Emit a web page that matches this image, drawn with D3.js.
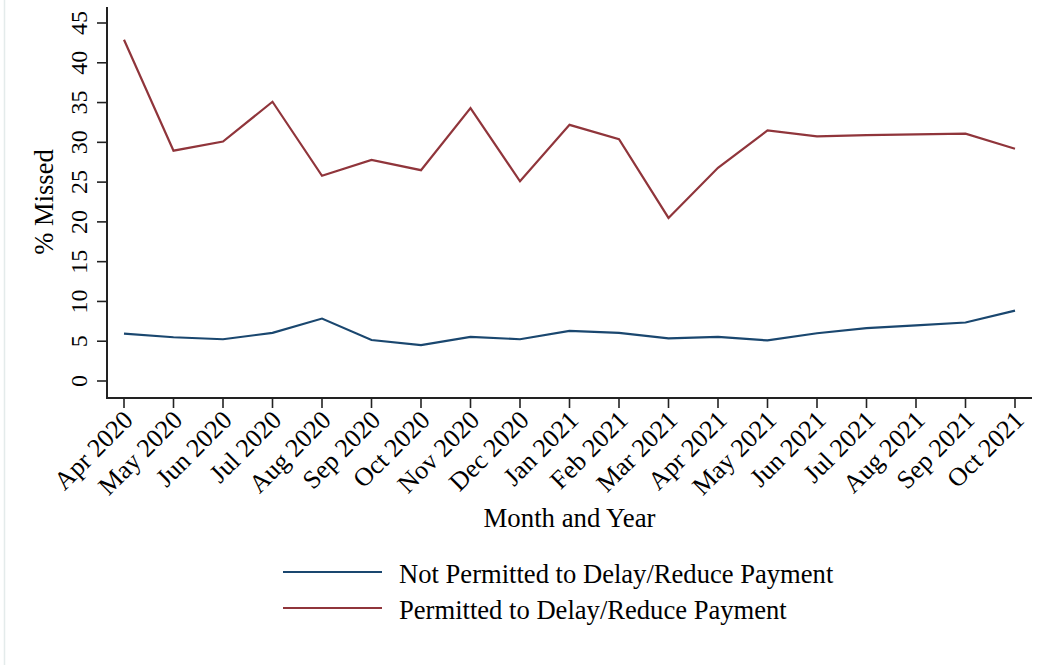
<!DOCTYPE html>
<html>
<head>
<meta charset="utf-8">
<script src="https://cdn.jsdelivr.net/npm/d3@7"></script>
<style>
  html, body { margin: 0; padding: 0; background: #ffffff; }
  svg { display: block; }
  text { font-family: "Liberation Serif", "Times New Roman", serif; fill: #000; }
</style>
</head>
<body>
<svg id="chart" width="1045" height="665"></svg>
<script>
// Monthly share of payments missed, by forbearance status
const months = ["Apr 2020", "May 2020", "Jun 2020", "Jul 2020", "Aug 2020", "Sep 2020",
  "Oct 2020", "Nov 2020", "Dec 2020", "Jan 2021", "Feb 2021", "Mar 2021", "Apr 2021",
  "May 2021", "Jun 2021", "Jul 2021", "Aug 2021", "Sep 2021", "Oct 2021"];

const notPermitted = [5.95, 5.5, 5.25, 6.05, 7.85, 5.15, 4.5, 5.55, 5.25, 6.3, 6.05,
  5.35, 5.55, 5.1, 6.0, 6.65, 7.0, 7.35, 8.85];

const permitted = [42.9, 28.95, 30.1, 35.1, 25.8, 27.8, 26.5, 34.3, 25.1, 32.2, 30.4,
  20.5, 26.8, 31.5, 30.75, 30.9, 31.0, 31.1, 29.2];

const yTicks = [0, 5, 10, 15, 20, 25, 30, 35, 40, 45];

const seriesNames = ["Not Permitted to Delay/Reduce Payment", "Permitted to Delay/Reduce Payment"];
const seriesColors = ["#1a476f", "#90353b"];

const svg = d3.select("#chart");

// faint frame edge on the left
svg.append("line")
  .attr("x1", 4.5).attr("x2", 4.5).attr("y1", 0).attr("y2", 665)
  .attr("stroke", "#e4ebeb").attr("stroke-width", 1.5);

const x = d3.scalePoint().domain(months).range([124, 1015]);
const y = d3.scaleLinear().domain([0, 45]).range([381, 23]);

const axisLeftX = 107, axisBottomY = 398;

// y axis
const gy = svg.append("g").attr("transform", `translate(${axisLeftX},0)`);
gy.append("line").attr("x1", 0).attr("x2", 0).attr("y1", 7).attr("y2", axisBottomY + 1)
  .attr("stroke", "#222").attr("stroke-width", 2);
gy.selectAll("line.tick").data(yTicks).join("line")
  .attr("class", "tick")
  .attr("x1", -10).attr("x2", 0)
  .attr("y1", d => y(d)).attr("y2", d => y(d))
  .attr("stroke", "#222").attr("stroke-width", 1.6);
gy.selectAll("text.tl").data(yTicks).join("text")
  .attr("class", "tl")
  .attr("transform", d => `translate(-20,${y(d)}) rotate(-90)`)
  .attr("text-anchor", "middle")
  .style("font-size", "24px")
  .text(d => d);

svg.append("text")
  .attr("transform", `translate(53,${(y(0) + y(45)) / 2}) rotate(-90)`)
  .attr("text-anchor", "middle")
  .style("font-size", "26.5px")
  .text("% Missed");

// x axis
const gx = svg.append("g").attr("transform", `translate(0,${axisBottomY})`);
gx.append("line").attr("x1", axisLeftX - 1).attr("x2", 1032).attr("y1", 0).attr("y2", 0)
  .attr("stroke", "#222").attr("stroke-width", 2);
gx.selectAll("line.tick").data(months).join("line")
  .attr("class", "tick")
  .attr("x1", d => x(d)).attr("x2", d => x(d))
  .attr("y1", 0).attr("y2", 10)
  .attr("stroke", "#222").attr("stroke-width", 1.6);
gx.selectAll("text.tl").data(months).join("text")
  .attr("class", "tl")
  .attr("transform", d => `translate(${x(d) + 4},${17}) rotate(-45)`)
  .attr("text-anchor", "end")
  .attr("dy", "0.35em")
  .style("font-size", "26px")
  .text(d => d);

svg.append("text")
  .attr("x", (x.range()[0] + x.range()[1]) / 2)
  .attr("y", 527)
  .attr("text-anchor", "middle")
  .style("font-size", "26.8px")
  .text("Month and Year");

// series lines
const line = d3.line()
  .x((d, i) => x(months[i]))
  .y(d => y(d));

[notPermitted, permitted].forEach((vals, k) => {
  svg.append("path")
    .datum(vals)
    .attr("d", line)
    .attr("fill", "none")
    .attr("stroke", seriesColors[k])
    .attr("stroke-width", 2.2)
    .attr("stroke-linejoin", "miter");
});

// legend
const legend = svg.append("g");
const legendRows = [572, 608];
seriesNames.forEach((name, k) => {
  legend.append("line")
    .attr("x1", 283).attr("x2", 382)
    .attr("y1", legendRows[k]).attr("y2", legendRows[k])
    .attr("stroke", seriesColors[k]).attr("stroke-width", 2.2);
  legend.append("text")
    .attr("x", 399).attr("y", legendRows[k])
    .attr("dy", "0.4em")
    .style("font-size", "26.6px")
    .text(name);
});
</script>
</body>
</html>
